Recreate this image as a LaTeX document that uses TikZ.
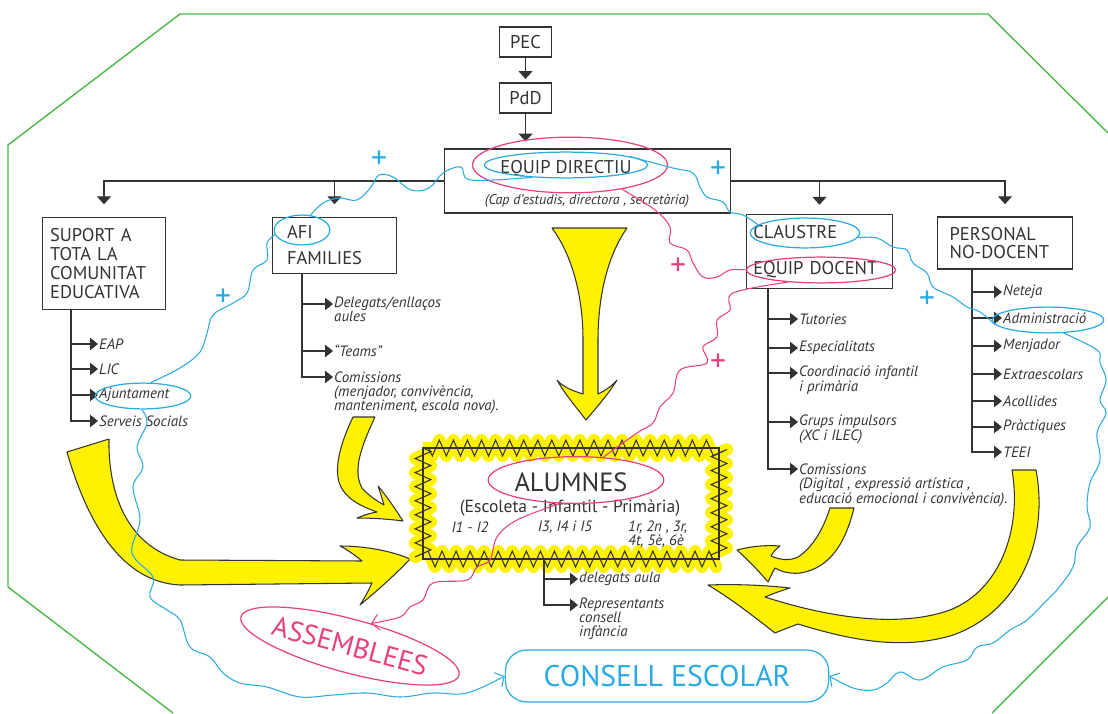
\documentclass[tikz,border=0pt]{standalone}
\usepackage{fontspec}
\setmainfont{PT Sans}
\usetikzlibrary{arrows.meta,positioning,shapes.geometric,decorations.pathmorphing}
\definecolor{cyanc}{HTML}{29ABE2}
\definecolor{pinkc}{HTML}{E8407F}
\definecolor{yellowc}{HTML}{FFF200}
\definecolor{greenc}{HTML}{4CB848}
\definecolor{inkc}{HTML}{333333}

\begin{document}
\begin{tikzpicture}[
  x=0.02cm, y=-0.02cm,
  box/.style={rectangle, draw=inkc, line width=0.7pt, text=inkc, align=left, font=\fontsize{10.5}{10.8}\selectfont},
  item/.style={anchor=west, inner sep=0.5pt, text=inkc, font=\fontsize{8.5}{9}\selectfont\itshape},
  cont/.style={anchor=base west, inner sep=0.5pt, text=inkc, font=\fontsize{8.5}{9}\selectfont\itshape},
  drop/.style={draw=inkc, line width=0.7pt, -{Triangle[length=4.5pt,width=8pt]}},
  branch/.style={draw=inkc, line width=0.7pt, -{Triangle[length=4.5pt,width=7pt]}},
  bigarrow/.style={fill=yellowc, draw=inkc, line width=0.6pt, line join=round},
  oval/.style={ellipse, line width=0.7pt, inner sep=0pt},
  blueline/.style={draw=cyanc, line width=0.6pt},
  pinkline/.style={draw=pinkc, line width=0.6pt},
  plussign/.style={font=\fontsize{18}{18}\selectfont, inner sep=0pt}
]
\useasboundingbox (0,0) rectangle (1108,713);

% School frame
\draw[greenc, line width=0.8pt] (8,587) -- (8,145) -- (180,14) -- (988,14) -- (1108,133);
\draw[greenc, line width=0.8pt] (8,587) -- (173,713);
\draw[greenc, line width=0.8pt] (1108,597) -- (992,713);

% Yellow arrows towards the pupils
\draw[bigarrow] (552,228) -- (627,228)
  .. controls (606,258) and (598,300) .. (598,340) -- (598,394)
  .. controls (606,390) and (612,386) .. (617,380)
  .. controls (607,396) and (596,408) .. (586,420)
  .. controls (577,408) and (566,396) .. (557,380)
  .. controls (562,386) and (570,390) .. (583,394) -- (583,340)
  .. controls (583,300) and (574,258) .. (552,228) -- cycle;
\draw[bigarrow] (353,417) -- (375,417)
  .. controls (362,445) and (352,470) .. (362,488)
  .. controls (369,496) and (377,501) .. (384,505)
  .. controls (382,498) and (380,492) .. (378,486)
  .. controls (388,498) and (396,510) .. (403,521)
  .. controls (388,519) and (372,518) .. (357,518)
  .. controls (364,515) and (371,513) .. (377,512)
  .. controls (360,506) and (344,498) .. (339,482)
  .. controls (334,465) and (342,440) .. (353,417) -- cycle;
\draw[bigarrow] (67,452) -- (109,439)
  .. controls (108,492) and (126,545) .. (180,560) -- (362,561)
  .. controls (356,556) and (348,550) .. (340,546)
  .. controls (365,546) and (392,551) .. (410,559)
  .. controls (395,575) and (378,590) .. (360,605)
  .. controls (365,597) and (369,590) .. (372,583) -- (180,585)
  .. controls (118,582) and (85,515) .. (67,452) -- cycle;
\draw[bigarrow] (830,508) -- (854,508)
  .. controls (846,540) and (832,568) .. (800,573)
  .. controls (790,574) and (782,572) .. (775,568)
  .. controls (772,573) and (770,578) .. (768,582)
  .. controls (758,570) and (748,560) .. (737,550)
  .. controls (752,546) and (766,545) .. (780,546)
  .. controls (776,549) and (773,552) .. (771,556)
  .. controls (780,560) and (790,561) .. (798,557)
  .. controls (812,548) and (823,530) .. (830,508) -- cycle;
\draw[bigarrow] (1012,470) -- (1036,470)
  .. controls (1050,545) and (1015,615) .. (950,636)
  .. controls (900,650) and (850,640) .. (798,624)
  .. controls (790,627) and (782,630) .. (775,633)
  .. controls (752,615) and (730,598) .. (708,585)
  .. controls (735,584) and (763,585) .. (790,588)
  .. controls (780,591) and (772,594) .. (765,597)
  .. controls (830,618) and (900,628) .. (950,610)
  .. controls (1000,590) and (1022,530) .. (1012,470) -- cycle;

% Highlight round the pupils
\draw[yellowc, line width=7pt, line join=round, decorate, decoration={zigzag, amplitude=4.5pt, segment length=8pt}] (423,448) rectangle (719,559);
\draw[inkc, line width=0.6pt, decorate, decoration={zigzag, amplitude=4.5pt, segment length=8pt}] (423,448) rectangle (719,559);

% Top of the chart
\node[box, minimum width=30pt, minimum height=17pt] (pec) at (525.5,42) {PEC};
\node[box, minimum width=30pt, minimum height=17pt] (pdd) at (525.5,98) {PdD};
\node[box, minimum width=162.7pt, minimum height=36.3pt] (eqbox) at (587.5,181) {};
\node[text=inkc, inner sep=0pt, font=\fontsize{10.5}{11}\selectfont] (eqt) at (566,169) {EQUIP DIRECTIU};
\node[text=inkc, inner sep=0pt, font=\fontsize{8}{9}\selectfont\itshape] (eqsub) at (587,201) {(Cap d'estudis, directora , secretària)};

\draw[drop, shorten >=2pt] (pec) -- (pdd);
\draw[drop, shorten >=4pt] (pdd) -- (pdd |- eqbox.north);

% Second row
\node[box, minimum width=70.3pt, minimum height=52.7pt, text width=61.3pt, inner xsep=4.5pt] (sup) at (104,263.5) {SUPORT A\\TOTA LA\\COMUNITAT\\EDUCATIVA};
\node[box, minimum width=71pt, minimum height=32.3pt, text width=54pt, inner xsep=8.5pt] (afi) at (334.5,245.5) {AFI\\[4pt]FAMILIES};
\node[box, minimum width=83.4pt, minimum height=42.5pt, text width=75.4pt, inner xsep=4pt] (cla) at (819.5,251.5) {CLAUSTRE\\[9.6pt]EQUIP DOCENT};
\node[box, minimum width=77pt, minimum height=29.5pt, text width=63pt, inner xsep=7pt, font=\fontsize{10.5}{10.2}\selectfont] (pers) at (1005,243) {PERSONAL\\NO-DOCENT};

\draw[drop, shorten >=7pt] (eqbox.west) -| (sup.north);
\draw[drop, shorten >=7pt] (eqbox.west) -| (afi.north);
\draw[drop, shorten >=5pt] (eqbox.east) -| (cla.north);
\draw[drop, shorten >=7pt] (eqbox.east) -| (pers.north);

% Support list
\coordinate (supsp) at (71,310);
\node[item] (eap) at (98,344) {EAP};
\node[item] (lic) at (98,369) {LIC};
\node[item] (ajun) at (98,395) {Ajuntament};
\node[item] (serv) at (98,421) {Serveis Socials};
\draw[branch] (supsp |- eap.west) -- (eap.west);
\draw[branch] (supsp |- lic.west) -- (lic.west);
\draw[branch] (supsp |- ajun.west) -- (ajun.west);
\draw[branch] (supsp) |- (serv.west);

% Families list
\coordinate (afisp) at (302,274);
\node[item] (deleg) at (333,304) {Delegats/enllaços};
\node[cont] (deleg2) at ([yshift=-8pt]deleg.base west) {aules};
\node[item] (teams) at (333,351) {``Teams''};
\node[item] (comafi) at (333,377) {Comissions};
\node[cont] (comafi2) at ([yshift=-8pt]comafi.base west) {(menjador, convivència,};
\node[cont] (comafi3) at ([yshift=-8pt]comafi2.base west) {manteniment, escola nova).};
\draw[branch] (afisp |- deleg.west) -- (deleg.west);
\draw[branch] (afisp |- teams.west) -- (teams.west);
\draw[branch] (afisp) |- (comafi.west);

% Staff list
\coordinate (clasp) at (768,289);
\node[item] (tut) at (798,319) {Tutories};
\node[item] (esp) at (798,348) {Especialitats};
\node[item] (coord) at (798,373) {Coordinació infantil};
\node[cont] (coord2) at ([yshift=-8.2pt]coord.base west) {i primària};
\node[item] (grups) at (798,422) {Grups impulsors};
\node[cont] (grups2) at ([yshift=-8.2pt]grups.base west) {(XC i ILEC)};
\node[item] (comcl) at (798,469) {Comissions};
\node[cont] (comcl2) at ([yshift=-8.2pt]comcl.base west) {(Digital , expressió artística ,};
\node[cont] (comcl3) at ([yshift=-8.2pt]comcl2.base west) {educació emocional i convivència).};
\draw[branch] (clasp |- tut.west) -- (tut.west);
\draw[branch] (clasp |- esp.west) -- (esp.west);
\draw[branch] (clasp |- coord.west) -- (coord.west);
\draw[branch] (clasp |- grups.west) -- (grups.west);
\draw[branch] (clasp) |- (comcl.west);

% Non-teaching staff list
\coordinate (perssp) at (972,269);
\node[item] (net) at (1002,292) {Neteja};
\node[item] (adm) at (1002,318) {Administració};
\node[item] (menj) at (1002,346) {Menjador};
\node[item] (extra) at (1002,374) {Extraescolars};
\node[item] (acoll) at (1002,401) {Acollides};
\node[item] (prac) at (1002,427) {Pràctiques};
\node[item] (teei) at (1002,452) {TEEI};
\draw[branch] (perssp |- net.west) -- (net.west);
\draw[branch] (perssp |- adm.west) -- (adm.west);
\draw[branch] (perssp |- menj.west) -- (menj.west);
\draw[branch] (perssp |- extra.west) -- (extra.west);
\draw[branch] (perssp |- acoll.west) -- (acoll.west);
\draw[branch] (perssp |- prac.west) -- (prac.west);
\draw[branch] (perssp) |- (teei.west);

% Pupils
\node[rectangle, draw=inkc, line width=1.2pt, minimum width=168pt, minimum height=63pt] (alum) at (571,503.5) {};
\node[text=inkc, inner sep=0pt, font=\fontsize{15}{15}\selectfont] (alumt) at (571,482) {ALUMNES};
\node[text=inkc, inner sep=0pt, font=\fontsize{10}{10}\selectfont] (alumsub) at (570,508) {(Escoleta - Infantil - Primària)};
\node[item, anchor=center] (i12) at (470,527) {I1 - I2};
\node[item, anchor=center] (i35) at (565,527) {I3, I4 i I5};
\node[item] (prim) at (627,527) {1r, 2n , 3r,};
\node[cont] (prim2) at ([yshift=-8pt]prim.base west) {4t, 5è, 6è};

\coordinate (alsp) at (544,559);
\node[item] (dela) at (578,579) {delegats aula};
\node[item] (repr) at (578,605) {Representants};
\node[cont] (repr2) at ([yshift=-8pt]repr.base west) {consell};
\node[cont] (repr3) at ([yshift=-8pt]repr2.base west) {infància};
\draw[branch] (alsp |- dela.west) -- (dela.west);
\draw[branch] (alsp) |- (repr.west);

% Bodies of participation
\node[ellipse, draw=pinkc, line width=0.7pt, text=pinkc, rotate=-15, inner xsep=0pt, inner ysep=5pt, font=\fontsize{16}{16}\selectfont] (assem) at (350,646) {ASSEMBLEES};
\node[rectangle, rounded corners=12pt, draw=cyanc, line width=0.7pt, text=cyanc, minimum width=184pt, minimum height=29.5pt, font=\fontsize{17}{17}\selectfont] (consell) at (667,676) {CONSELL ESCOLAR};

% Ovals
\node[oval, draw=cyanc, minimum width=54.4pt, minimum height=14.7pt] (ovajun) at (143,396) {};
\node[oval, draw=cyanc, minimum width=31.7pt, minimum height=17pt] (ovafi) at (302,230) {};
\node[oval, draw=cyanc, minimum width=93pt, minimum height=14.7pt] (ovedb) at (566,165) {};
\node[oval, draw=pinkc, minimum width=111pt, minimum height=31.7pt] (ovedp) at (570,165) {};
\node[oval, draw=cyanc, minimum width=62.4pt, minimum height=17pt] (ovcla) at (805,233) {};
\node[oval, draw=pinkc, minimum width=85pt, minimum height=14.7pt] (ovdoc) at (821,270) {};
\node[oval, draw=cyanc, minimum width=63.5pt, minimum height=14.7pt] (ovadm) at (1048,320) {};
\node[oval, draw=pinkc, minimum width=100pt, minimum height=26.6pt] (ovalu) at (576,480) {};

% Blue links
\draw[blueline] plot[smooth, tension=0.6] coordinates {(ovajun.60) (180,368) (200,352) (207,333) (213,315) (233,303) (247,293) (253,270) (267,260) (267,243) (ovafi.190)};
\draw[blueline] plot[smooth, tension=0.6] coordinates {(ovafi.60) (323,203) (339,198) (357,200) (371,187) (379,175) (393,177) (411,190) (429,188) (443,173) (461,167) (471,180) (ovedb.200)};
\draw[blueline] plot[smooth, tension=0.6] coordinates {(ovedb.8) (673,168) (693,173) (700,187) (707,197) (723,202) (730,212) (743,215) (ovcla.170)};
\draw[blueline] plot[smooth, tension=0.6] coordinates {(ovcla.-5) (877,238) (893,247) (907,250) (913,263) (927,273) (933,287) (953,297) (967,307) (980,312) (ovadm.185)};
\draw[blueline, -{Straight Barb[length=4pt,width=9pt]}] plot[smooth, tension=0.6] coordinates {(ovadm.-40) (1097,350) (1100,363) (1106,380) (1100,400) (1106,413) (1097,433) (1100,460) (1090,483) (1087,507) (1090,527) (1077,547) (1073,567) (1057,590) (1047,600) (1027,620) (1010,630) (993,643) (977,647) (967,660) (943,667) (920,680) (900,672) (887,683) (873,690) (853,688) (consell.east)};
\draw[blueline, -{Straight Barb[length=4pt,width=9pt]}] plot[smooth, tension=0.6] coordinates {(ovajun.-95) (147,423) (137,447) (143,467) (133,487) (140,520) (132,553) (153,577) (150,597) (167,610) (180,620) (190,647) (210,657) (223,673) (240,683) (267,687) (300,697) (333,695) (367,693) (400,697) (433,693) (467,693) (consell.west)};

% Pink links
\draw[pinkline] plot[smooth, tension=0.6] coordinates {(ovedp.-25) (655,210) (670,227) (670,243) (687,250) (693,263) (703,277) (717,277) (730,270) (ovdoc.180)};
\draw[pinkline] plot[smooth, tension=0.6] coordinates {(ovdoc.200) (733,293) (730,310) (717,320) (717,337) (703,347) (707,363) (680,370) (673,393) (660,407) (653,423) (637,433) (ovalu.40)};
\draw[pinkline, -{Straight Barb[length=4pt,width=9pt]}] plot[smooth, tension=0.6] coordinates {(ovalu.235) (517,520) (497,537) (490,560) (477,567) (467,580) (433,583) (423,600) (410,607) (400,617) (assem.62)};

% Plus signs
\node[plussign, text=cyanc] (pa) at (379,160) {+};
\node[plussign, text=cyanc] (pb) at (718,170) {+};
\node[plussign, text=cyanc] (pc) at (223,298) {+};
\node[plussign, text=cyanc] (pd) at (927,300) {+};
\node[plussign, text=pinkc] (pe) at (678,267) {+};
\node[plussign, text=pinkc] (pf) at (718,363) {+};

\end{tikzpicture}
\end{document}
